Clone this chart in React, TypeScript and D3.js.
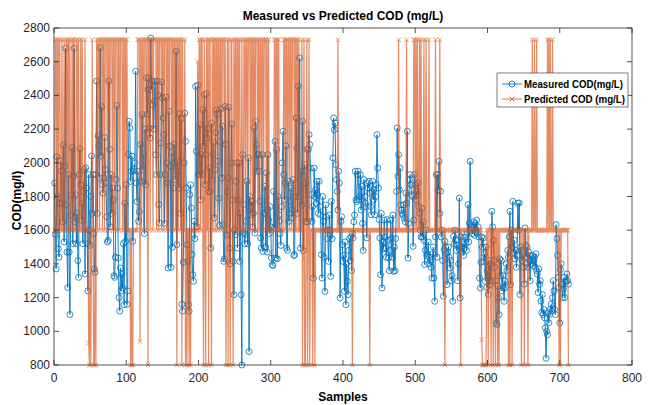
import React from 'react';
import * as d3 from 'd3';

const measuredCOD: number[] = [
  1880, 1575, 1370, 2036, 1800, 1490, 1440, 1760, 2010, 1950,
  1760, 1650, 2105, 1530, 1980, 2680, 1750, 1470, 1260, 1930,
  1470, 1100, 1690, 1810, 2090, 1520, 1920, 2680, 1650, 1810,
  1520, 1700, 1420, 1320, 1930, 2083, 1870, 1660, 1760, 1520,
  1830, 1960, 1340, 1970, 1850, 1520, 1240, 1930, 1600, 1510,
  1800, 2040, 1700, 1930, 1580, 1370, 1350, 1930, 2485, 1700,
  2160, 2100, 1910, 2683, 2040, 2333, 1870, 1820, 1910, 2150,
  1960, 1880, 1680, 1530, 1540, 2485, 2080, 1620, 1930, 1700,
  1850, 1780, 1330, 1320, 1440, 1900, 2340, 1850, 1435, 1200,
  1120, 1376, 1240, 1340, 1257, 1520, 1158, 1760, 1534, 1870,
  1160, 1240, 2050, 2246, 2207, 1890, 1950, 2040, 1534, 1950,
  1960, 2000, 2543, 1880, 1770, 1950, 1653, 1710, 1890, 2108,
  1890, 2286, 1960, 2050, 1580, 2200, 1870, 2505, 2290, 2434,
  2503, 2207, 2147, 2740, 2434, 2484, 2345, 2200, 2365, 2484,
  2048, 1930, 2484, 2400, 1752, 1643, 1930, 2118, 2480, 2385,
  2266, 2167, 1640, 1930, 2390, 2000, 1880, 1376, 2305, 2100,
  1980, 1380, 2060, 1500, 1850, 2110, 2000, 1900, 2662, 1514,
  2009, 1950, 1850, 2290, 1700, 2260, 1160, 1120, 1410, 2000,
  2295, 2127, 1850, 1514, 1415, 1158, 1119, 1811, 1870, 1732,
  1455, 1336, 1297, 1653, 1550, 2454, 2068, 1620, 2460, 1930,
  1930, 2226, 1780, 2050, 1930, 2315, 2100, 2404, 1870, 2048,
  2410, 2147, 2200, 1830, 1969, 1830, 1494, 2236, 1900, 2050,
  2120, 1673, 1960, 2180, 2315, 2290, 2009, 1790, 1630, 2127,
  2320, 1910, 2217, 1633, 1415, 1430, 2335, 2108, 1574, 1830,
  1910, 2330, 1494, 1400, 2000, 2230, 1780, 1415, 1217, 1600,
  1574, 1890, 2000, 1494, 1780, 2000, 1415, 1700, 1217, 800,
  2048, 1752, 1583, 1520, 1574, 1653, 1890, 1520, 2029, 880,
  1800, 1690, 1740, 1772, 1620, 1700, 2207, 1583, 2246, 2108,
  1950, 2048, 2050, 1950, 1772, 1554, 1494, 2048, 1475, 1700,
  1700, 1860, 1500, 1940, 1470, 2048, 1660, 1580, 1740, 1620,
  1435, 1395, 1390, 1830, 1613, 2127, 1435, 2078, 1430, 1800,
  1692, 1653, 1580, 1510, 1740, 2000, 2187, 1930, 1780, 1880,
  2100, 1494, 1480, 1890, 1653, 1700, 1772, 1850, 1673, 1720,
  1900, 1450, 1455, 1800, 2266, 2088, 1700, 2454, 1800, 2622,
  1494, 1950, 1750, 2246, 1480, 1950, 1989, 1880, 1650, 2080,
  1650, 2080, 2167, 2108, 1969, 1811, 1653, 1740, 1316, 1969,
  1800, 1840, 1760, 1890, 1810, 1700, 1890, 1740, 1692, 1455,
  1316, 1800, 1653, 1440, 1237, 1750, 1680, 1600, 1550, 1415,
  1690, 1600, 1326, 1771, 1550, 2029, 2266, 2197, 2236, 1989,
  1900, 1830, 1720, 1950, 1880, 1198, 1653, 1680, 1514, 1415,
  1450, 1237, 1530, 1158, 1400, 1297, 1218, 1480, 1550, 1420,
  1560, 1360, 1580, 1554, 1650, 1690, 1950, 1781, 1770, 1930,
  1950, 1781, 1800, 1930, 1720, 1860, 1640, 1480, 1900, 1800,
  1760, 1740, 1554, 1880, 1850, 1890, 1820, 1740, 1692, 1830,
  1890, 1780, 1840, 1692, 1800, 1870, 2167, 1969, 1850, 1663,
  1554, 1336, 1700, 1257, 1530, 1490, 1660, 1560, 1494, 1440,
  1663, 1540, 1435, 1360, 1480, 1660, 1550, 1440, 1690, 1356,
  1500, 1360, 1550, 1830, 2207, 1920, 2048, 1840, 1969, 1750,
  1720, 1700, 1690, 1750, 1670, 1650, 1820, 1760, 2187, 1435,
  1640, 1900, 1930, 1870, 1810, 1800, 1504, 1660, 1930, 1870,
  1780, 1830, 1810, 1880, 1740, 1700, 1600, 1560, 1730, 1560,
  1650, 1540, 1396, 1480, 1600, 1450, 1460, 1530, 1400, 1440,
  1420, 1380, 1316, 1460, 1500, 1316, 1178, 1560, 1930, 1440,
  1930, 1840, 2009, 1700, 1831, 1560, 1600, 1420, 1208, 1485,
  1534, 1500, 1460, 1277, 1470, 1500, 1440, 1376, 1420, 1300,
  1330, 1178, 1564, 1520, 1600, 1540, 1480, 1510, 1300, 1400,
  1791, 1198, 1560, 1500, 1470, 1520, 1450, 1490, 1560, 1520,
  1480, 1580, 1752, 1530, 1640, 2009, 1620, 1600, 1580, 1610,
  1650, 1570, 1640, 1590, 1660, 1580, 1620, 1560, 1316, 1257,
  1410, 1560, 1500, 1554, 1415, 1460, 1297, 1500, 1260, 1360,
  1218, 1420, 1277, 1400, 1300, 1712, 1620, 1540, 1420, 1380,
  1300, 1050, 1040, 1270, 1200, 1099, 1430, 1330, 1420, 1240,
  1330, 1257, 1178, 1300, 1260, 1400, 1360, 1480, 1440, 1560,
  1712, 1277, 1600, 1500, 1771, 1470, 1540, 1430, 1480, 1380,
  1450, 1760, 1600, 1762, 1218, 1500, 1480, 1420, 1460, 1380,
  1280, 1613, 1510, 1440, 1500, 1380, 1470, 1420, 1300, 1450,
  1400, 1450, 1390, 1420, 1440, 1380, 1460, 1360, 1340, 1230,
  1370, 1280, 1300, 1180, 1110, 1218, 1099, 1130, 1080, 1020,
  840, 1000, 980, 1110, 1050, 1100, 1130, 1160, 1120, 1200,
  1300, 1240, 1130, 1099, 1633, 1550, 1450, 1320, 1260, 1050,
  1365, 1400, 1280, 1200, 1250, 1320, 1200, 1290, 1300, 1340,
  1300, 1280,
];

const predictedCOD: number[] = [
  1600, 2730, 2730, 1600, 2730, 1600, 2730, 2730, 1600, 1600,
  2730, 1600, 1600, 2730, 1600, 1600, 2730, 2730, 1600, 2730,
  1600, 2730, 1600, 1600, 2730, 1600, 2730, 2730, 1600, 1600,
  2730, 2730, 1600, 2730, 1600, 1600, 2730, 1600, 2730, 1600,
  1600, 1600, 2730, 1600, 1600,
  1600, 1600, 930, 800, 1600, 800, 1600, 2730, 1600, 800, 800, 1600, 800, 2730, 1600,
  2730, 2730, 1600, 2730, 2730, 2730, 1600, 2730, 2730, 1600,
  2730, 2730, 2730, 1600, 2730, 2730, 1600, 2730, 2730, 2730,
  1600, 2730, 2730, 1600, 2730, 2730, 2730, 1600, 2730, 2730,
  1600, 2730, 2730, 2730, 1600, 2730, 1600, 2730, 2730, 1600,
  2730, 1600,
  1600, 1600, 1600, 800, 1600, 800, 800, 1600, 1600, 1600, 1600, 1600, 1600, 2730,
  2730, 2730, 940, 2730, 1600, 2730, 2730, 1600, 2730, 2730,
  2730, 1600, 2730, 800, 2730, 2730, 1600, 2730, 2730, 2730,
  1600, 2730, 2730, 2730, 2730, 1600, 2730, 2730, 1600, 2730,
  2730, 2730, 1600, 2730, 2730, 1600, 2730, 2730, 2730, 1600,
  2730, 2730, 1600, 2730, 2730, 2730, 1600, 2730, 1600, 2730,
  2730, 1600, 2730, 800, 2730, 1600, 2730, 2730, 1600, 2730,
  800, 2730, 1600, 1600, 2730,
  800, 1600, 800, 1600, 1600, 800, 1600, 800, 1600, 1600,
  1600, 1600, 1600, 1600, 1600, 1600, 1600, 2600, 1600,
  2730, 2730, 1600, 2730, 2730, 1600, 800, 2730, 1600, 800,
  2730, 1600, 2730, 800, 2730, 2730, 1600, 800, 2730, 1600,
  2730, 2730, 1600, 2730, 2730, 1600, 2730, 2730, 1600, 2730,
  2730, 1600, 2730, 2730, 2730, 1600, 2730, 800, 1600, 2730,
  800, 2730, 1600, 800, 2730, 2730, 1600, 800, 2730, 1600,
  2730, 2730, 1600, 2730, 1600, 2730, 2730, 1600, 1600, 2730,
  1600, 1600, 2730,
  2730, 1600, 2730, 2730, 1600, 2730, 2730, 2730, 1600, 2730,
  2730, 1600, 2730, 2730, 1600, 2730, 2730, 2730, 1600, 2730,
  1600, 2730, 2730, 1600, 2730, 2730, 1600, 2730, 2730, 2730,
  1600, 2730, 1600, 2730, 1600, 1600, 1600, 1600, 1600, 1600,
  1600, 2730, 2730, 1600, 2730, 2730, 1600, 2730, 1600, 1600,
  1600, 1600, 1600, 1600, 2730, 2730, 1600, 2730, 2730, 1600,
  2730, 2730, 1600, 2730, 2730, 1600, 2730, 2730, 2730, 1600,
  2730, 1600, 2730, 2730, 1600, 2730, 1600, 1600,
  1600, 2730, 800, 1600, 2730, 800, 800, 1600, 2730, 800,
  1600, 2730, 800, 1600, 1600, 1600, 800, 1600, 1600, 800,
  1600, 1600, 1600, 1600, 1600, 1600, 1600, 1600, 1600, 1600, 1600, 1600, 1600, 1600, 1600, 1600, 1600, 1600, 1600, 1600,
  1600, 1600, 1600, 1600, 1600, 1600, 1600, 1600, 1600, 1600, 1600, 2730, 1600, 1600, 1600, 1600, 1600, 1600, 1600, 1600,
  1600, 1600, 1600, 1600, 1600, 1600, 1600, 1600, 1600, 1600, 1600, 800, 1600, 1600, 1600, 1600, 1600, 1600, 1600, 1600,
  1600, 1600, 1600, 1600, 1600, 1600, 1600, 1600, 1600, 1600, 1600, 1600, 1600, 1600, 1600, 800, 1600, 1600, 1600, 1600,
  1600, 1600, 1600, 1600, 1600, 1600, 1600, 1600, 1600, 1600, 1600, 1600, 1600, 1600, 1600, 1600, 1600, 1600, 1600, 1600,
  1600, 1600, 1600, 1600, 1600, 1600, 1600, 1600, 1600, 1600, 1600, 1600, 1600, 1600, 1600, 2730, 1600, 1600, 1600, 1600,
  1600, 1600, 1600, 1600, 1600, 1600, 2730, 1600, 1600, 1600, 1600, 1600, 1600, 1600, 1600, 1600, 2730, 2730, 1600, 2730,
  1600, 2730, 1600, 1600, 2730, 1600, 2730, 1600, 1600, 1600, 2730, 1600, 1600, 2730, 1600, 1600, 1600, 2730, 1600, 1600,
  1600, 1600, 1600, 1600, 1600, 1600, 2730, 1600, 1600, 1600, 1600, 1600, 2730, 1600, 1600, 1600, 1600, 1600, 1600, 800,
  1600, 1600, 1600, 1600, 1600, 1600, 1600, 1600, 1600, 1600, 1600, 1600, 1600, 1600, 1600, 1600, 1600, 1600, 1600, 1600,
  1600, 800, 1600, 1600, 1600, 1600, 1600, 1600, 1600, 1600, 1600, 1600, 1600, 1600, 1600, 1600, 1600, 1600, 1600, 1600,
  1600, 1600, 1600, 1600, 1600, 1600, 1600, 1600, 1600, 1600, 950, 800, 800, 800, 800, 800, 800, 1600, 1600, 800,
  1600, 1600, 1600, 800, 1600, 1600, 800, 1600, 1600, 800, 1600, 1600, 800, 1600, 800, 1600, 1600, 1600, 1600, 1600,
  1600, 1600, 1600, 1600, 1600, 1600, 1600, 800, 1600, 800, 1600, 1600, 800, 1600, 1600, 1600, 1600, 1600, 1600, 1600,
  1600, 1600, 1600, 1600, 1600, 800, 1600, 1600, 1600, 800, 1600, 1600, 1600, 1600, 800, 1600, 1600, 1600, 1600, 1600,
  2730, 1600, 1600, 2730, 1600, 1600, 2730, 1600, 1600, 1600, 1600, 1600, 1600, 1600, 1600, 1600, 1600, 1600, 1600, 1600,
  1600, 2730, 1600, 2730, 1600, 2730, 1600, 1600, 2730, 1600, 1600, 1600, 1600, 1600, 1600, 1600, 1600, 800, 1600, 800,
  1600, 1600, 1600, 1600, 1600, 1600, 1600, 1600, 1600, 1600, 800,
];

const xTicks = [0, 100, 200, 300, 400, 500, 600, 700, 800];
const yTicks = [800, 1000, 1200, 1400, 1600, 1800, 2000, 2200, 2400, 2600, 2800];
const seriesNames = ['Measured COD(mg/L)', 'Predicted COD (mg/L)'];
const titleText = 'Measured vs Predicted COD (mg/L)';

const BLUE = '#0072BD';
const ORANGE = '#D95319';
const AXIS = '#262626';
const FONT = "'Liberation Sans', Arial, sans-serif";

export default function App() {
  const W = 652, H = 405;
  const L = 54, R = 632, T = 28, B = 365;
  const x = d3.scaleLinear().domain([0, 800]).range([L, R]);
  const y = d3.scaleLinear().domain([800, 2800]).range([B, T]);
  const line = d3.line<number>().x((_, i) => x(i + 1)).y((d) => y(d));
  const mPath = line(measuredCOD) || '';
  const pPath = line(predictedCOD) || '';
  const tk = 5;
  const xm = 2.2;

  return (
    <div style={{ position: 'absolute', left: 0, top: 0 }}>
      <svg width={W} height={H} style={{ display: 'block', background: '#fff' }} fontFamily={FONT}>
        <rect x={0} y={0} width={W} height={H} fill="#fff" />
        {/* measured */}
        <path d={mPath} fill="none" stroke={BLUE} strokeWidth={0.9} />
        {measuredCOD.map((d, i) => (
          <circle key={'m' + i} cx={x(i + 1)} cy={y(d)} r={3} fill="none" stroke={BLUE} strokeWidth={0.8} />
        ))}
        {/* predicted */}
        <g opacity={0.68}>
          <path d={pPath} fill="none" stroke={ORANGE} strokeWidth={1.2} />
          {predictedCOD.map((d, i) => {
            const cx = x(i + 1), cy = y(d);
            return (
              <path key={'p' + i} d={`M${cx - xm},${cy - xm}L${cx + xm},${cy + xm}M${cx - xm},${cy + xm}L${cx + xm},${cy - xm}`} stroke={ORANGE} strokeWidth={0.9} />
            );
          })}
        </g>
        {/* frame */}
        <rect x={L} y={T} width={R - L} height={B - T} fill="none" stroke={AXIS} strokeWidth={0.8} />
        {xTicks.map((t) => (
          <g key={'xt' + t}>
            <line x1={x(t)} x2={x(t)} y1={B} y2={B - tk} stroke={AXIS} strokeWidth={0.8} />
            <line x1={x(t)} x2={x(t)} y1={T} y2={T + tk} stroke={AXIS} strokeWidth={0.8} />
            <text x={x(t)} y={382} textAnchor="middle" fontSize={12} fill={AXIS}>{t}</text>
          </g>
        ))}
        {yTicks.map((t) => (
          <g key={'yt' + t}>
            <line x1={L} x2={L + tk} y1={y(t)} y2={y(t)} stroke={AXIS} strokeWidth={0.8} />
            <line x1={R} x2={R - tk} y1={y(t)} y2={y(t)} stroke={AXIS} strokeWidth={0.8} />
            <text x={50} y={y(t) + 4} textAnchor="end" fontSize={12} fill={AXIS}>{t}</text>
          </g>
        ))}
        <text x={343} y={20} textAnchor="middle" fontSize={12} fontWeight="bold" fill="#000">{titleText}</text>
        <text x={343} y={401} textAnchor="middle" fontSize={12} fontWeight="bold" fill="#000">Samples</text>
        <text transform={`translate(21,${(T + B) / 2 + 4}) rotate(-90)`} textAnchor="middle" fontSize={12} fontWeight="bold" fill="#000">COD(mg/l)</text>
        {/* legend */}
        <rect x={497} y={73} width={131} height={34} fill="#fff" stroke={AXIS} strokeWidth={0.6} />
        <line x1={502} x2={522} y1={84} y2={84} stroke={BLUE} strokeWidth={0.9} />
        <circle cx={512} cy={84} r={3} fill="none" stroke={BLUE} strokeWidth={0.8} />
        <text x={524} y={88} fontSize={11} fontWeight="bold" fill="#000" textLength={99} lengthAdjust="spacingAndGlyphs">{seriesNames[0]}</text>
        <line x1={502} x2={522} y1={99} y2={99} stroke={ORANGE} strokeWidth={1} opacity={0.75} />
        <path d={`M${512 - xm},${99 - xm}L${512 + xm},${99 + xm}M${512 - xm},${99 + xm}L${512 + xm},${99 - xm}`} stroke={ORANGE} strokeWidth={0.9} />
        <text x={524} y={103} fontSize={11} fontWeight="bold" fill="#000" textLength={101} lengthAdjust="spacingAndGlyphs">{seriesNames[1]}</text>
      </svg>
    </div>
  );
}
